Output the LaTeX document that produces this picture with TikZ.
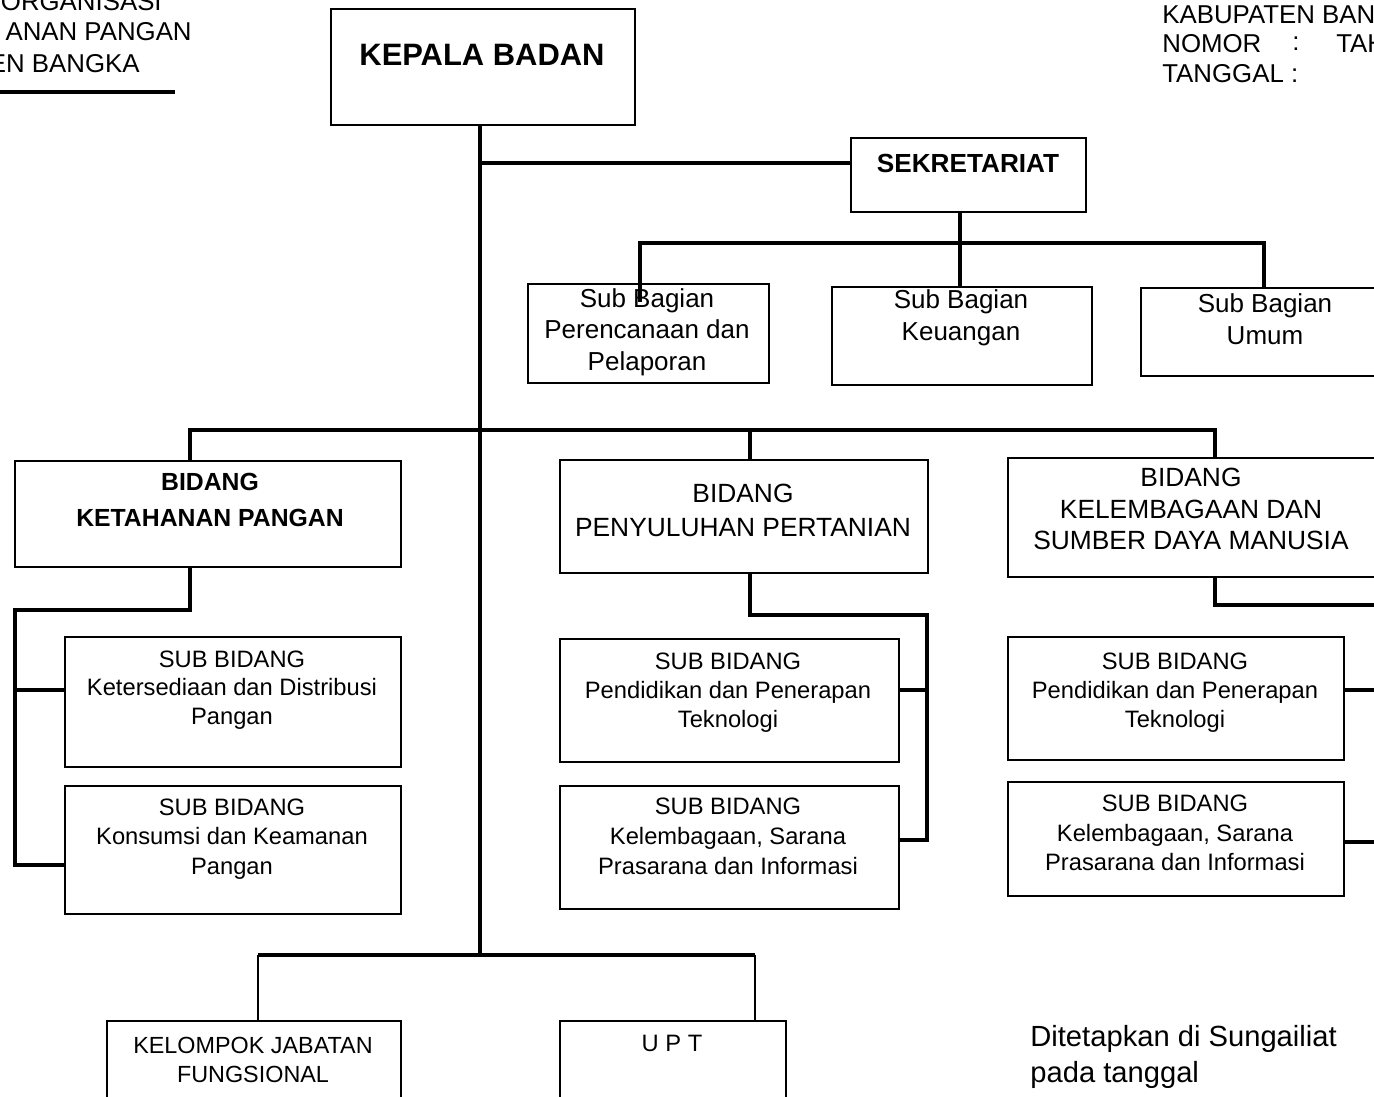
\documentclass[tikz,border=0pt]{standalone}
\usepackage{fontspec}
\setmainfont{Liberation Sans}
\tikzset{
  box/.style 2 args={draw, line width=1.4pt, anchor=north west, inner sep=0pt,
    minimum width=#1*0.02cm, minimum height=#2*0.02cm},
  txt/.style 2 args={align=center, inner sep=0pt, font=\fontsize{#1}{#2}\selectfont},
  txtb/.style 2 args={align=center, inner sep=0pt, font=\fontsize{#1}{#2}\selectfont\bfseries},
  conn/.style={line width=2.1pt},
  thinconn/.style={line width=1.3pt}
}
\begin{document}
\begin{tikzpicture}[x=0.02cm, y=-0.02cm]
    \useasboundingbox (0,0) rectangle (1374,1097);
    \fill[white] (0,0) rectangle (1374,1097);
    \clip (0,0) rectangle (1374,1097);

    \node[txt={14.7}{17.5}, anchor=east] (judul1) at (162,2) {ORGANISASI};
    \node[txt={14.7}{17.5}, anchor=east] (judul2) at (192,32) {ANAN PANGAN};
    \node[txt={14.7}{17.5}, anchor=east] (judul3) at (140,64) {EN BANGKA};
    \draw[line width=2.2pt] (0,92) -- (175,92);

    \node[txt={14.7}{17.5}, anchor=west] (lamp1) at (1162,15) {KABUPATEN BAN};
    \node[txt={14.7}{17.5}, anchor=west] (lamp2) at (1162,44) {NOMOR};
    \node[txt={14.7}{17.5}] (lamp2b) at (1296,44) {:};
    \node[txt={14.7}{17.5}, anchor=west] (lamp2c) at (1336,44) {TAH};
    \node[txt={14.7}{17.5}, anchor=west] (lamp3) at (1162,74) {TANGGAL :};

    \node[box={304}{116}] (kepala) at (330,8) {};
    \node[txtb={17.6}{21}] (kepala-t) at (482,55) {KEPALA BADAN};
    \node[box={235}{74}] (sekre) at (850,137) {};
    \node[txtb={14.9}{18}] (sekre-t) at (968,163) {SEKRETARIAT};

    \node[box={241}{99}] (renc) at (527,283) {};
    \node[txt={14.8}{18}] (renc-t) at (647,332) {Sub Bagian\\Perencanaan dan\\Pelaporan};
    \node[box={260}{98}] (keu) at (831,286) {};
    \node[txt={14.8}{18}] (keu-t) at (961,318) {Sub Bagian\\Keuangan};
    \node[box={260}{88}] (umum) at (1140,287) {};
    \node[txt={14.8}{18}] (umum-t) at (1265,319) {Sub Bagian\\Umum};

    \node[box={386}{106}] (keta) at (14,460) {};
    \node[txtb={14.1}{21}] (keta-t) at (210,500) {BIDANG\\KETAHANAN PANGAN};
    \node[box={368}{113}] (peny) at (559,459) {};
    \node[txt={15}{19.3}] (peny-t) at (743,510) {BIDANG\\PENYULUHAN PERTANIAN};
    \node[box={367}{119}] (sdm) at (1007,457) {};
    \node[txt={15}{18}] (sdm-t) at (1191,509) {BIDANG\\KELEMBAGAAN DAN\\SUMBER DAYA MANUSIA};

    \node[box={336}{130}] (keter) at (64,636) {};
    \node[txt={13.5}{16.3}] (keter-t) at (232,690) {SUB BIDANG\\Ketersediaan dan Distribusi\\Pangan};
    \node[box={336}{128}] (konsu) at (64,785) {};
    \node[txt={13.5}{16.7}] (konsu-t) at (232,839) {SUB BIDANG\\Konsumsi dan Keamanan\\Pangan};
    \node[box={339}{123}] (pdik) at (559,638) {};
    \node[txt={13.5}{16.5}] (pdik-t) at (728,693) {SUB BIDANG\\Pendidikan dan Penerapan\\Teknologi};
    \node[box={339}{123}] (pkel) at (559,785) {};
    \node[txt={13.5}{17}] (pkel-t) at (728,836) {SUB BIDANG\\Kelembagaan, Sarana\\Prasarana dan Informasi};
    \node[box={336}{123}] (sdik) at (1007,636) {};
    \node[txt={13.5}{16.5}] (sdik-t) at (1175,693) {SUB BIDANG\\Pendidikan dan Penerapan\\Teknologi};
    \node[box={336}{114}] (skel) at (1007,781) {};
    \node[txt={13.5}{16.8}] (skel-t) at (1175,833) {SUB BIDANG\\Kelembagaan, Sarana\\Prasarana dan Informasi};

    \node[box={294}{100}] (kjf) at (106,1020) {};
    \node[txt={13.3}{17}] (kjf-t) at (253,1060) {KELOMPOK JABATAN\\FUNGSIONAL};
    \node[box={226}{100}] (upt) at (559,1020) {};
    \node[txt={13.5}{16}] (upt-t) at (672,1043) {U P T};

    \node[txt={16.6}{20}, align=left, anchor=west] (tetap) at (1030,1057) {Ditetapkan di Sungailiat\\pada tanggal};

    \coordinate (spine) at (480,955);
    \draw[conn] (kepala.south -| spine) -- (spine);
    \draw[conn] (spine |- sekre-t) -- (sekre.west |- sekre-t);

    \coordinate (sb1) at (640,243);
    \coordinate (sb2) at (960,243);
    \coordinate (sb3) at (1264,243);
    \coordinate (sb1e) at (640,302);
    \draw[conn] (sekre.south -| sb2) -- (keu.north -| sb2);
    \draw[conn] (sb1e) -- (sb1) -- (sb3) -- (sb3 |- umum.north);

    \coordinate (bb1) at (190,430);
    \coordinate (bb2) at (750,430);
    \coordinate (bb3) at (1215,430);
    \draw[conn] (bb1 |- keta.north) -- (bb1) -- (bb3) -- (bb3 |- sdm.north);
    \draw[conn] (bb2) -- (bb2 |- peny.north);

    \coordinate (kb) at (15,610);
    \coordinate (k1) at (15,690);
    \coordinate (k2) at (15,865);
    \draw[conn] (keta.south -| bb1) |- (kb) -- (k2) -- (k2 -| konsu.west);
    \draw[conn] (k1) -- (k1 -| keter.west);

    \coordinate (pb) at (927,615);
    \coordinate (p1) at (927,690);
    \coordinate (p2) at (927,840);
    \draw[conn] (peny.south -| bb2) |- (pb) -- (p2) -- (p2 -| pkel.east);
    \draw[conn] (p1) -- (p1 -| pdik.east);

    \coordinate (rb) at (1380,605);
    \coordinate (r1) at (1380,690);
    \coordinate (r2) at (1380,842);
    \draw[conn] (sdm.south -| bb3) |- (rb);
    \draw[conn] (sdik.east |- r1) -- (r1);
    \draw[conn] (skel.east |- r2) -- (r2);

    \coordinate (fb1) at (258,955);
    \coordinate (fb2) at (755,955);
    \draw[conn] (fb1) -- (fb2);
    \draw[thinconn] (fb1) -- (fb1 |- kjf.north);
    \draw[thinconn] (fb2) -- (fb2 |- upt.north);
\end{tikzpicture}
\end{document}
